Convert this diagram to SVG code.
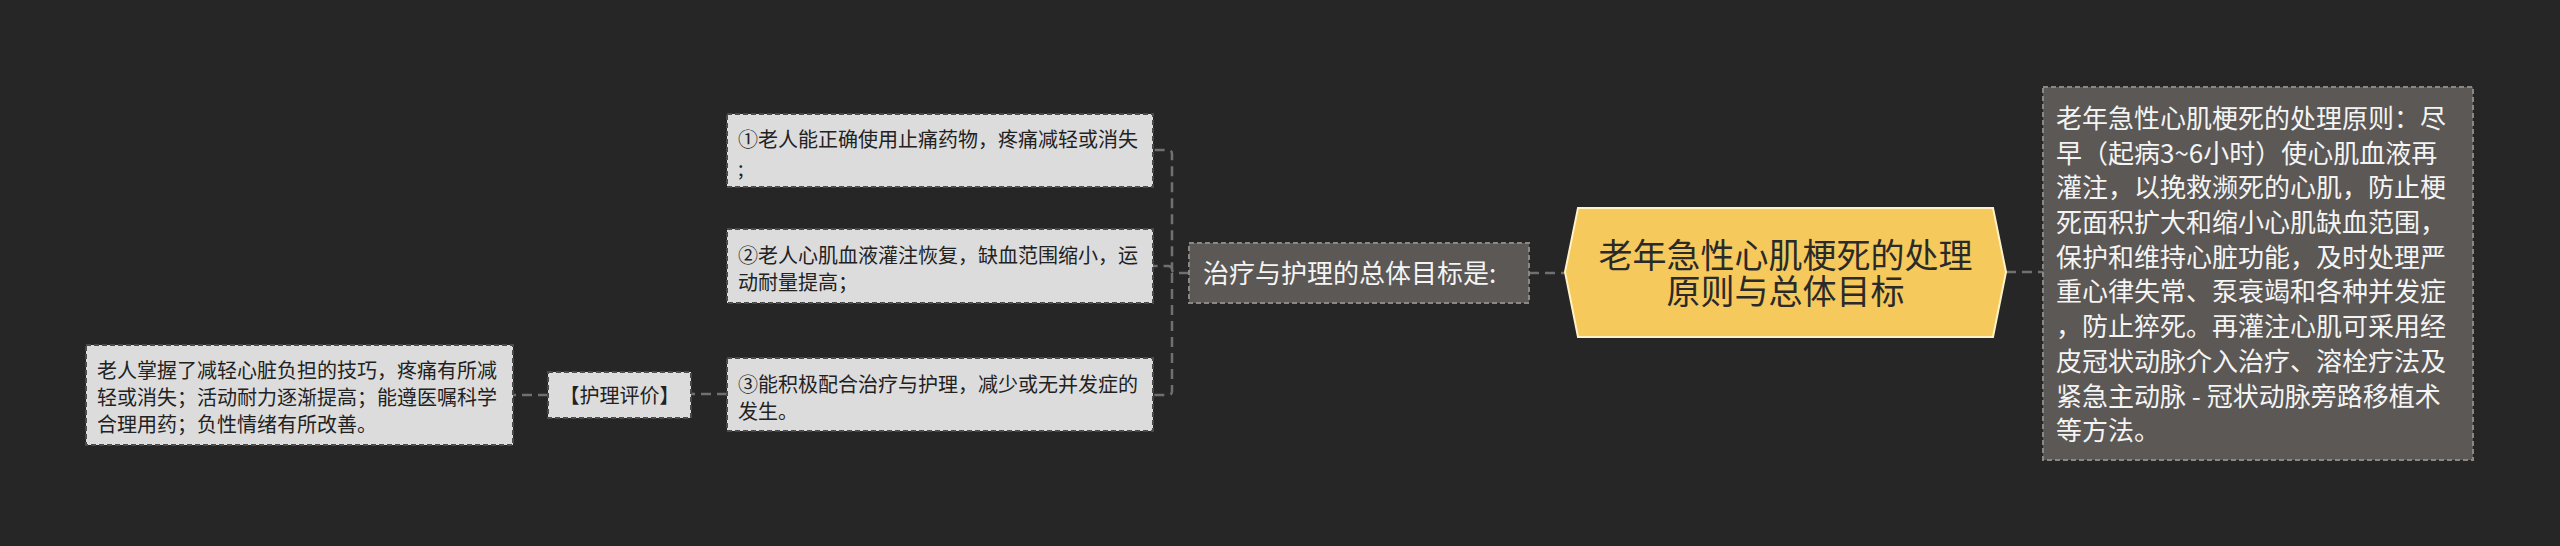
<svg xmlns="http://www.w3.org/2000/svg" width="2560" height="546" viewBox="0 0 2560 546">
<style>
.t{font-family:"Noto Sans CJK SC","Noto Sans",sans-serif}
.leaf rect{fill:#dcdcdc;stroke:#4a4a4a;stroke-width:2;stroke-dasharray:5,3}
.leaf text{fill:#222;font-size:20px}
.dark rect{fill:#5b5855;stroke:#8a8784;stroke-width:2;stroke-dasharray:5,3}
.dark text{fill:#f4f4f4;font-size:26px}
.conn path{fill:none;stroke:#707070;stroke-width:2.5;stroke-dasharray:10,6}
</style>
<rect width="2560" height="546" fill="#262626"/>
<g class="conn">
<path d="M2006,272 H2043"/>
<path d="M1529,273 H1565"/>
<path d="M1189,273 H1176 Q1172,273 1172,269 V154 Q1172,150 1168,150 H1153"/>
<path d="M1172,269 Q1172,266 1168,266 H1153"/>
<path d="M1172,273 V391 Q1172,395 1168,395 H1153"/>
<path d="M727,394 H691"/>
<path d="M548,395 H513"/>
</g>
<g id="root">
<polygon points="1565,272 1578,208 1993,208 2006,272 1993,337 1578,337" fill="#f5c95b" stroke="#fff2c6" stroke-width="2"/>
<text class="t" x="1785.5" y="268" text-anchor="middle" font-size="34" fill="#2a2a2a">老年急性心肌梗死的处理</text>
<text class="t" x="1785.5" y="304" text-anchor="middle" font-size="34" fill="#2a2a2a">原则与总体目标</text>
</g>
<g id="principle" class="dark">
<rect x="2043" y="87" width="430" height="373"/>
<text class="t" x="2056" y="128">老年急性心肌梗死的处理原则：尽</text>
<text class="t" x="2056" y="163">早（起病3~6小时）使心肌血液再</text>
<text class="t" x="2056" y="197">灌注，以挽救濒死的心肌，防止梗</text>
<text class="t" x="2056" y="232">死面积扩大和缩小心肌缺血范围，</text>
<text class="t" x="2056" y="267">保护和维持心脏功能，及时处理严</text>
<text class="t" x="2056" y="301">重心律失常、泵衰竭和各种并发症</text>
<text class="t" x="2056" y="336">，防止猝死。再灌注心肌可采用经</text>
<text class="t" x="2056" y="371">皮冠状动脉介入治疗、溶栓疗法及</text>
<text class="t" x="2056" y="406">紧急主动脉 - 冠状动脉旁路移植术</text>
<text class="t" x="2056" y="440">等方法。</text>
</g>
<g id="goal" class="dark">
<rect x="1189" y="243" width="340" height="60"/>
<text class="t" x="1203" y="283">治疗与护理的总体目标是:</text>
</g>
<g id="goal1" class="leaf">
<rect x="727" y="114" width="426" height="73"/>
<text class="t" x="738" y="147">①老人能正确使用止痛药物，疼痛减轻或消失</text>
<text class="t" x="738" y="176">;</text>
</g>
<g id="goal2" class="leaf">
<rect x="727" y="229" width="426" height="74"/>
<text class="t" x="738" y="263">②老人心肌血液灌注恢复，缺血范围缩小，运</text>
<text class="t" x="738" y="290">动耐量提高；</text>
</g>
<g id="goal3" class="leaf">
<rect x="727" y="358" width="426" height="73"/>
<text class="t" x="738" y="392">③能积极配合治疗与护理，减少或无并发症的</text>
<text class="t" x="738" y="419">发生。</text>
</g>
<g id="eval" class="leaf">
<rect x="548" y="372" width="143" height="46"/>
<text class="t" x="619.5" y="402.5" text-anchor="middle">【护理评价】</text>
</g>
<g id="evaltext" class="leaf">
<rect x="86" y="345" width="427" height="100"/>
<text class="t" x="97" y="378">老人掌握了减轻心脏负担的技巧，疼痛有所减</text>
<text class="t" x="97" y="405">轻或消失；活动耐力逐渐提高；能遵医嘱科学</text>
<text class="t" x="97" y="432">合理用药；负性情绪有所改善。</text>
</g>
</svg>
